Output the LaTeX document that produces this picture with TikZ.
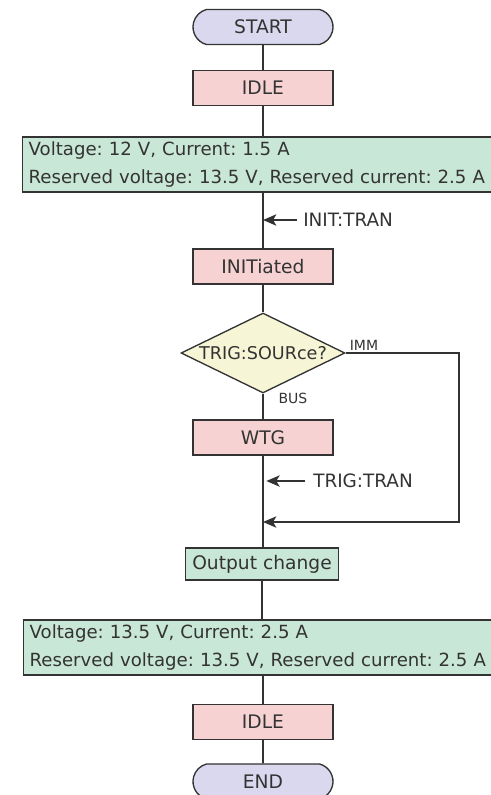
\documentclass[tikz,border=0pt]{standalone}
\usepackage{fontspec}
\setmainfont{DejaVu Sans}
\frenchspacing
\usetikzlibrary{shapes.geometric,shapes.misc,arrows.meta}
\definecolor{inkgray}{HTML}{333333}
\definecolor{termfill}{HTML}{DAD8EE}
\definecolor{statefill}{HTML}{F6D3D2}
\definecolor{infofill}{HTML}{C9E7D7}
\definecolor{askfill}{HTML}{F6F5D5}
\tikzset{
  flownode/.style = {draw=inkgray, line width=1pt, text=inkgray, inner sep=0pt,
                     font=\fontsize{14}{16}\selectfont},
  terminal/.style = {flownode, rounded rectangle, rounded rectangle arc length=150,
                     fill=termfill, minimum width=105pt, minimum height=26.25pt},
  state/.style    = {flownode, rectangle, fill=statefill,
                     minimum width=105pt, minimum height=26.25pt},
  info/.style     = {flownode, rectangle, fill=infofill, anchor=west, align=left,
                     text width=380pt, inner xsep=4.5pt, minimum height=41.25pt,
                     font=\fontsize{13.6}{21}\selectfont},
  decision/.style = {flownode, diamond, fill=askfill, shape aspect=2.05,
                     minimum width=123pt, minimum height=60pt,
                     font=\fontsize{13.2}{16}\selectfont},
  tag/.style      = {text=inkgray, inner sep=0pt, font=\fontsize{10.5}{12}\selectfont},
  cmd/.style      = {text=inkgray, inner sep=0pt, anchor=west,
                     font=\fontsize{13.8}{16}\selectfont}
}
\begin{document}
\begin{tikzpicture}
        [
            x                 = 0.75pt,
            y                 = -0.75pt,
            flow/.style       = {draw=inkgray, line width=1.2pt},
            arr/.style        = {flow, -{Stealth[length=10pt, width=8.5pt, inset=2.5pt]}}
        ]
    \useasboundingbox (0,0) rectangle (491,795);
    \clip (0,0) rectangle (491,795);

    % boxes
    \node [terminal] (start)  at (263,27)  {START};
    \node [state]    (idle1)  at (263,88)  {IDLE};
    \node [info]     (setA)   at (22,164.5) {Voltage: 12 V, Current: 1.5 A\\
                                            Reserved voltage: 13.5 V, Reserved current: 2.5 A};
    \node [state]    (init)   at (263,266.5) {INITiated};
    \node [decision] (ask)    at (263,353) {TRIG:SOURce?};
    \node [state]    (wtg)    at (263,437.5) {WTG};
    \node [state, fill=infofill, minimum width=114.75pt, minimum height=24pt]
                     (change) at (262,564) {Output change};
    \node [info]     (setB)   at (23,647.5) {Voltage: 13.5 V, Current: 2.5 A\\
                                            Reserved voltage: 13.5 V, Reserved current: 2.5 A};
    \node [state]    (idle2)  at (263,722) {IDLE};
    \node [terminal] (finish) at (263,781.5) {END};

    % labels
    \node [cmd] (initcmd) at (303,220) {INIT:TRAN};
    \node [cmd] (trigcmd) at (313,481) {TRIG:TRAN};
    \node [tag] (imm) at (364,345) {IMM};
    \node [tag] (bus) at (293,398) {BUS};

    % connectors
    \draw [flow] (start) -- (idle1);
    \draw [flow] (idle1.south) -- (idle1.south |- setA.north);
    \draw [flow] (setA.south -| idle1) -- (init);
    \draw [flow] (init) -- (ask);
    \draw [flow] (ask) -- (wtg);
    \draw [flow] (wtg) -- (change.north -| wtg);
    \draw [flow] (change.south) -- (change.south |- setB.north);
    \draw [flow] (setB.south -| idle2) -- (idle2);
    \draw [flow] (idle2) -- (finish);

    \coordinate (inittail) at (297,220);
    \draw [arr] (inittail) -- (inittail -| init);
    \coordinate (trigtail) at (305,481);
    \draw [arr, shorten >=2.5pt] (trigtail) -- (trigtail -| wtg);
    \coordinate (loopback) at (459,522);
    \draw [arr] (ask.east) -| (loopback) -- (loopback -| ask);
\end{tikzpicture}
\end{document}
